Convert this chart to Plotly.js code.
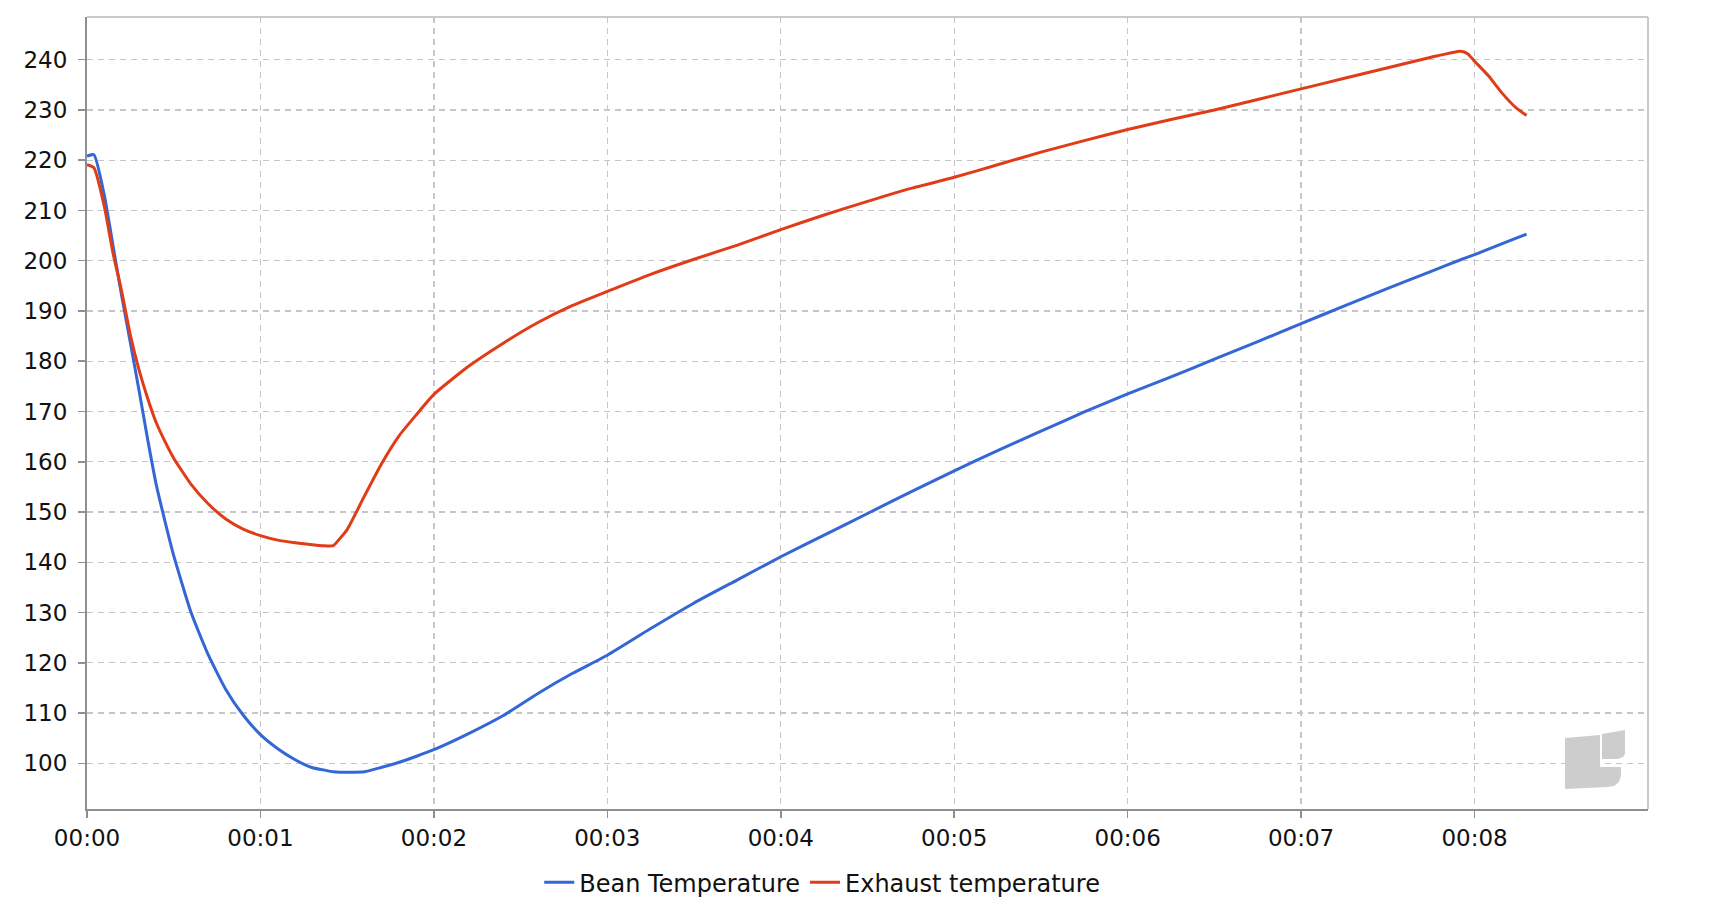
<!DOCTYPE html>
<html>
<head>
<meta charset="utf-8">
<script src="https://cdn.plot.ly/plotly-3.0.1.min.js"></script>
<style>
  html, body { margin: 0; padding: 0; background: #ffffff; }
  #myDiv { width: 1712px; height: 910px; }
</style>
</head>
<body>
<div id="myDiv"></div>
<script>
// roast time in minutes
var minutes = [0, 0.04, 0.1, 0.15, 0.2, 0.25, 0.3, 0.35, 0.4, 0.45, 0.5, 0.6, 0.7, 0.8, 0.9,
  1.0, 1.1, 1.2, 1.3, 1.36, 1.42, 1.46, 1.5, 1.6, 1.7, 1.8, 1.9, 2.0, 2.2, 2.4, 2.6, 2.8,
  3.0, 3.25, 3.5, 3.75, 4.0, 4.25, 4.5, 4.75, 5.0, 5.25, 5.5, 5.75, 6.0, 6.25, 6.5, 6.75,
  7.0, 7.25, 7.5, 7.75, 7.92, 7.96, 8.0, 8.08, 8.16, 8.24, 8.3];

var beanTemp = [220.8, 221.1, 213.0, 203.0, 193.0, 183.7, 174.2, 164.4, 155.3, 148.1, 141.3, 130.0, 121.5, 114.7, 109.6,
  105.7, 102.9, 100.7, 99.1, 98.7, 98.3, 98.2, 98.2, 98.3, 99.2, 100.2, 101.4, 102.7, 105.9, 109.5, 113.9, 117.9,
  121.5, 126.8, 131.9, 136.5, 141.1, 145.4, 149.7, 154.0, 158.2, 162.2, 166.1, 169.9, 173.5, 176.9, 180.4, 183.9,
  187.5, 191.0, 194.5, 197.9, 200.2, 200.7, 201.2, 202.3, 203.4, 204.5, 205.3];

var exhaustTemp = [219.1, 218.5, 210.8, 201.5, 193.9, 185.2, 178.3, 172.6, 167.7, 164.0, 160.7, 155.5, 151.6, 148.6, 146.6,
  145.3, 144.4, 143.9, 143.5, 143.3, 143.3, 144.8, 146.5, 153.2, 159.7, 165.2, 169.4, 173.4, 179.0, 183.6, 187.7, 191.1,
  193.9, 197.3, 200.3, 203.1, 206.2, 209.1, 211.8, 214.4, 216.6, 219.1, 221.6, 223.9, 226.1, 228.1, 230.0, 232.1,
  234.2, 236.3, 238.4, 240.5, 241.7, 241.2, 239.7, 236.8, 233.3, 230.4, 228.9];

var tickMinutes = [0, 1, 2, 3, 4, 5, 6, 7, 8];
var tickLabels = ['00:00', '00:01', '00:02', '00:03', '00:04', '00:05', '00:06', '00:07', '00:08'];

var trace1 = {
  x: minutes,
  y: beanTemp,
  type: 'scatter',
  mode: 'lines',
  name: 'Bean Temperature',
  line: { color: '#3566d6', width: 3, shape: 'spline', smoothing: 0.5 }
};

var trace2 = {
  x: minutes,
  y: exhaustTemp,
  type: 'scatter',
  mode: 'lines',
  name: 'Exhaust temperature',
  line: { color: '#e03c17', width: 3, shape: 'spline', smoothing: 0.5 }
};

// plot box in pixels, used for the border and the watermark
var box = { l: 87, r: 1648, t: 17, b: 809 };
function px(x) { return (x - box.l) / (box.r - box.l); }
function py(y) { return (box.b - y) / (box.b - box.t); }
function pathFrom(pts) {
  return pts.map(function (p, i) {
    return (i ? 'L' : 'M') + px(p[0]).toFixed(5) + ',' + py(p[1]).toFixed(5);
  }).join(' ') + ' Z';
}

// grey logo in the lower right corner
var logoL = [[1565, 738], [1600, 735], [1600, 767], [1621, 767], [1621, 776], [1619, 782],
  [1614, 786], [1607, 787], [1565, 789]];
var logoSq = [[1602, 734], [1625, 730], [1625, 754], [1623, 757], [1618, 759], [1602, 759]];

var axisStyle = {
  showgrid: true,
  gridcolor: '#c6c6c6',
  griddash: '6px,5px',
  gridwidth: 1.4,
  zeroline: false,
  showline: true,
  linecolor: '#8f8f8f',
  linewidth: 2,
  ticks: 'outside',
  ticklen: 7,
  tickcolor: '#8f8f8f',
  tickwidth: 1.5,
  tickfont: { size: 23, color: '#111111' },
  fixedrange: true
};

var layout = {
  width: 1712,
  height: 910,
  margin: { l: box.l, r: 1712 - box.r, t: box.t, b: 910 - box.b, autoexpand: false },
  paper_bgcolor: '#ffffff',
  plot_bgcolor: '#ffffff',
  font: { family: 'DejaVu Sans, sans-serif', color: '#111111', size: 23 },
  showlegend: true,
  legend: {
    orientation: 'h',
    x: 0.471,
    xanchor: 'center',
    y: -0.093,
    yanchor: 'middle',
    font: { size: 24, color: '#111111' }
  },
  xaxis: Object.assign({}, axisStyle, {
    range: [0, 9],
    tickvals: tickMinutes,
    ticktext: tickLabels,
    ticklabelstandoff: 0
  }),
  yaxis: Object.assign({}, axisStyle, {
    range: [90.9, 248.5],
    tick0: 0,
    dtick: 10,
    ticklabelstandoff: 6
  }),
  shapes: [
    { type: 'line', xref: 'paper', yref: 'paper', x0: 0, x1: 1, y0: 1, y1: 1,
      line: { color: '#b9b9b9', width: 1.5 } },
    { type: 'line', xref: 'paper', yref: 'paper', x0: 1, x1: 1, y0: 0, y1: 1,
      line: { color: '#b9b9b9', width: 1.5 } },
    { type: 'path', xref: 'paper', yref: 'paper', path: pathFrom(logoL),
      fillcolor: '#cdcdcd', line: { width: 0 }, layer: 'above' },
    { type: 'path', xref: 'paper', yref: 'paper', path: pathFrom(logoSq),
      fillcolor: '#cdcdcd', line: { width: 0 }, layer: 'above' }
  ]
};

var config = {
  displayModeBar: false,
  staticPlot: true
};

Plotly.newPlot('myDiv', [trace1, trace2], layout, config);
</script>
</body>
</html>
